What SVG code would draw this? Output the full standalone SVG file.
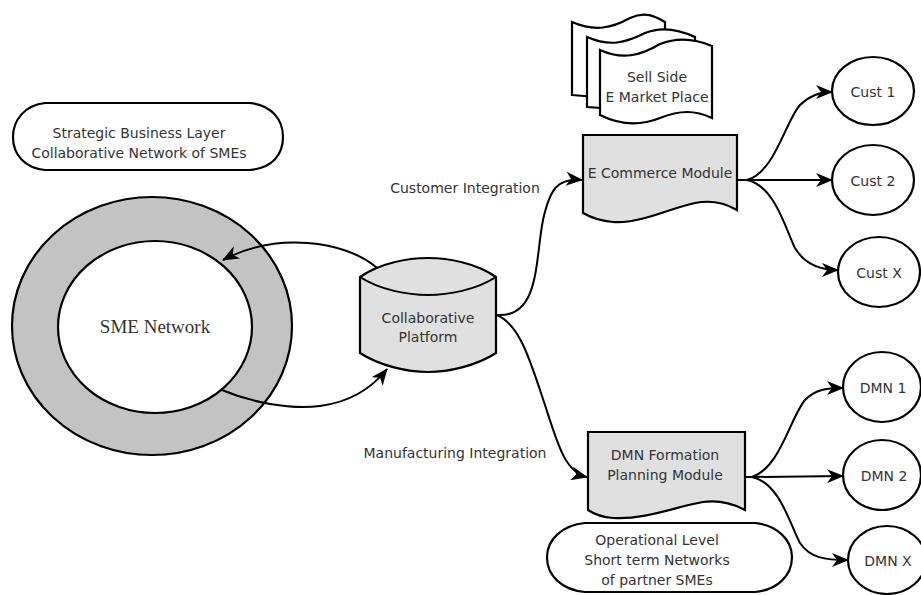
<svg xmlns="http://www.w3.org/2000/svg" width="921" height="595" viewBox="0 0 921 595">
<defs>
<marker id="arr" markerWidth="18" markerHeight="14" refX="16" refY="7" orient="auto" markerUnits="userSpaceOnUse">
<path d="M0,0 L17,7 L0,14 L5,7 Z" fill="#000"/>
</marker>
<style>
.t{font-family:"DejaVu Sans",Verdana,sans-serif;font-size:14px;fill:#333;text-anchor:middle}
.s{stroke:#000;stroke-width:2;fill:none}
.c{stroke:#000;stroke-width:2;fill:none;marker-end:url(#arr)}
.g{fill:#e0e0e0;stroke:#000;stroke-width:2.2}
.w{fill:#fff;stroke:#000;stroke-width:2.2}
</style>
</defs>
<rect width="921" height="595" fill="#fff"/>

<g id="strategic">
<path class="w" d="M45,103 L250,103 C272,105 283,120 283,137 C283,155 272,168 250,170 L45,170 C25,168 13,155 13,137 C13,120 25,105 45,103 Z"/>
<text class="t" x="139" y="138">Strategic Business Layer</text>
<text class="t" x="139" y="158">Collaborative Network of SMEs</text>
</g>

<g id="sme-network">
<ellipse cx="152" cy="326" rx="140" ry="129" fill="#c3c3c3" stroke="#000" stroke-width="2.2"/>
<ellipse cx="155" cy="327" rx="97" ry="86" fill="#fff" stroke="#000" stroke-width="2.2"/>
<text x="155" y="333" style="font-family:'Liberation Serif','Times New Roman',serif;font-size:19px;fill:#333;text-anchor:middle">SME Network</text>
</g>

<g id="collaborative-platform">
<path class="g" d="M360,277 C380,263 408,258 428,258 C448,258 476,263 496,277 L496,353 C476,366 448,372 428,372 C408,372 380,366 360,353 Z"/>
<path class="s" d="M360,277 C380,290 408,295 428,295 C448,295 476,290 496,277"/>
<text class="t" x="428" y="323">Collaborative</text>
<text class="t" x="428" y="342">Platform</text>
</g>

<g id="sell-side">
<path class="w" d="M572,22 C595,32 612,28 630,18 C645,11 655,16 665,22 L665,85 C650,92 620,100 572,95 Z"/>
<path class="w" d="M587,37 C610,47 625,43 645,33 C662,26 680,30 695,37 L695,100 C680,107 640,112 587,107 Z"/>
<path class="w" d="M600,50 C622,60 640,56 660,44 C680,36 698,40 712,46 L712,118 C695,110 680,110 660,118 C640,126 620,125 600,115 Z"/>
<text class="t" x="657" y="82">Sell Side</text>
<text class="t" x="657" y="102">E Market Place</text>
</g>

<g id="ecommerce">
<path class="g" d="M583,135 L737,135 L737,210 C725,203 710,200 695,203 C670,208 640,224 613,222 C600,221 590,217 583,213 Z"/>
<text class="t" x="660" y="178">E Commerce Module</text>
</g>

<g id="dmn-module">
<path class="g" d="M588,432 L745,432 L745,510 C732,503 718,500 703,502 C678,506 645,520 613,518 C600,517 594,514 588,510 Z"/>
<text class="t" x="665" y="460">DMN Formation</text>
<text class="t" x="665" y="480">Planning Module</text>
</g>

<g id="operational">
<path class="w" d="M585,523 L755,523 C777,525 792,540 792,557 C792,576 777,590 755,592 L585,592 C562,590 547,576 547,557 C547,540 562,525 585,523 Z"/>
<text class="t" x="657" y="545">Operational Level</text>
<text class="t" x="657" y="565">Short term Networks</text>
<text class="t" x="657" y="585">of partner SMEs</text>
</g>

<g id="cust1"><ellipse class="w" cx="873" cy="91" rx="41" ry="34"/><text class="t" x="873" y="97">Cust 1</text></g>
<g id="cust2"><ellipse class="w" cx="873" cy="180" rx="41" ry="35"/><text class="t" x="873" y="186">Cust 2</text></g>
<g id="custx"><ellipse class="w" cx="879" cy="272" rx="41" ry="35"/><text class="t" x="879" y="278">Cust X</text></g>
<g id="dmn1"><ellipse class="w" cx="882" cy="387" rx="39" ry="35"/><text class="t" x="883" y="393">DMN 1</text></g>
<g id="dmn2"><ellipse class="w" cx="882" cy="475" rx="39" ry="35"/><text class="t" x="884" y="481">DMN 2</text></g>
<g id="dmnx"><ellipse class="w" cx="887" cy="560" rx="39" ry="34"/><text class="t" x="888" y="566">DMN X</text></g>

<g id="labels">
<text class="t" x="465" y="193">Customer Integration</text>
<text class="t" x="455" y="458">Manufacturing Integration</text>
</g>

<g id="connectors">
<path class="c" d="M377,268 C345,240 275,232 223,260"/>
<path class="c" d="M222,390 C250,402 290,410 320,406 C350,402 372,388 387,369"/>
<path class="c" d="M497,315 C540,318 535,260 543,220 C550,188 558,178 582,180"/>
<path class="c" d="M497,315 C520,325 530,360 545,405 C558,445 565,472 587,477"/>
<path class="s" d="M737,180 L747,180"/>
<path class="c" d="M747,180 C775,172 785,122 800,105 C810,95 820,92 832,92"/>
<path class="c" d="M747,180 L832,180"/>
<path class="c" d="M747,180 C775,186 785,228 795,248 C805,265 820,270 838,270"/>
<path class="s" d="M745,477 L752,477"/>
<path class="c" d="M752,477 C780,468 790,418 805,400 C815,390 825,388 843,388"/>
<path class="c" d="M752,477 L843,476"/>
<path class="c" d="M752,477 C780,483 790,525 800,543 C810,558 825,560 848,560"/>
</g>
</svg>
